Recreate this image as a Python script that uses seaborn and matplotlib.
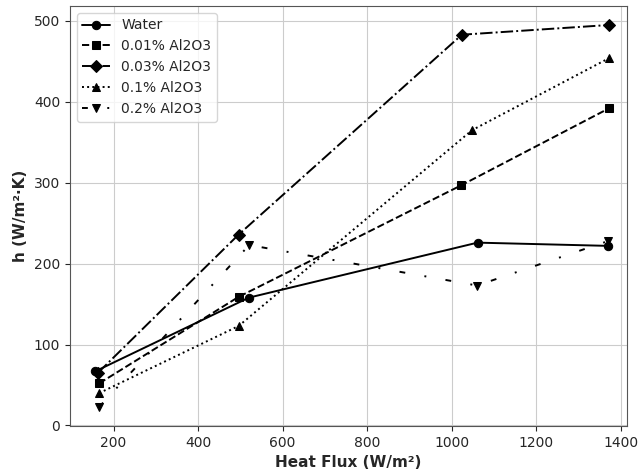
import matplotlib
matplotlib.use("Agg")
import matplotlib.pyplot as plt
import seaborn as sns
import pandas as pd

labels = ["Water", "0.01% Al2O3", "0.03% Al2O3", "0.1% Al2O3", "0.2% Al2O3"]
water_x = [157, 520, 1061, 1370]
water_y = [67, 158, 226, 222]
al001_x = [166, 496, 1023, 1372]
al001_y = [52, 159, 297, 392]
al003_x = [163, 496, 1024, 1372]
al003_y = [65, 236, 483, 495]
al01_x = [166, 496, 1048, 1372]
al01_y = [40, 123, 365, 454]
al02_x = [166, 521, 1060, 1370]
al02_y = [23, 223, 173, 228]

xs = [water_x, al001_x, al003_x, al01_x, al02_x]
ys = [water_y, al001_y, al003_y, al01_y, al02_y]
markers = ["o", "s", "D", "^", "v"]
styles = ["-", "--", "-.", ":", (0, (3, 10, 1, 10))]

sns.set_style("ticks")
plt.rcParams['font.family'] = ['DejaVu Sans']

fig = plt.figure(figsize=(6.39, 4.72), dpi=100)
ax = fig.add_axes([0.1095, 0.0975, 0.872, 0.89])

for lab, x, y, m, ls in zip(labels, xs, ys, markers, styles):
    df = pd.DataFrame({"x": x, "y": y})
    sns.lineplot(data=df, x="x", y="y", ax=ax, color="black", marker=m,
                 linestyle=ls, linewidth=1.4, markersize=6, label=lab,
                 markeredgecolor="black")

ax.set_xlim(97, 1415)
ax.set_ylim(-0.6, 518.6)
ax.set_xticks([200, 400, 600, 800, 1000, 1200, 1400])
ax.set_yticks([0, 100, 200, 300, 400, 500])
ax.grid(True, color="#cccccc", linewidth=0.8)
for s in ax.spines.values():
    s.set_visible(True)
    s.set_color("#555555")
ax.set_xlabel("Heat Flux (W/m²)", fontweight="bold", fontsize=11)
ax.set_ylabel("h (W/m²·K)", fontweight="bold", fontsize=11)
ax.legend(loc="upper left", fontsize=10)
fig.savefig("out.png", dpi=100)
